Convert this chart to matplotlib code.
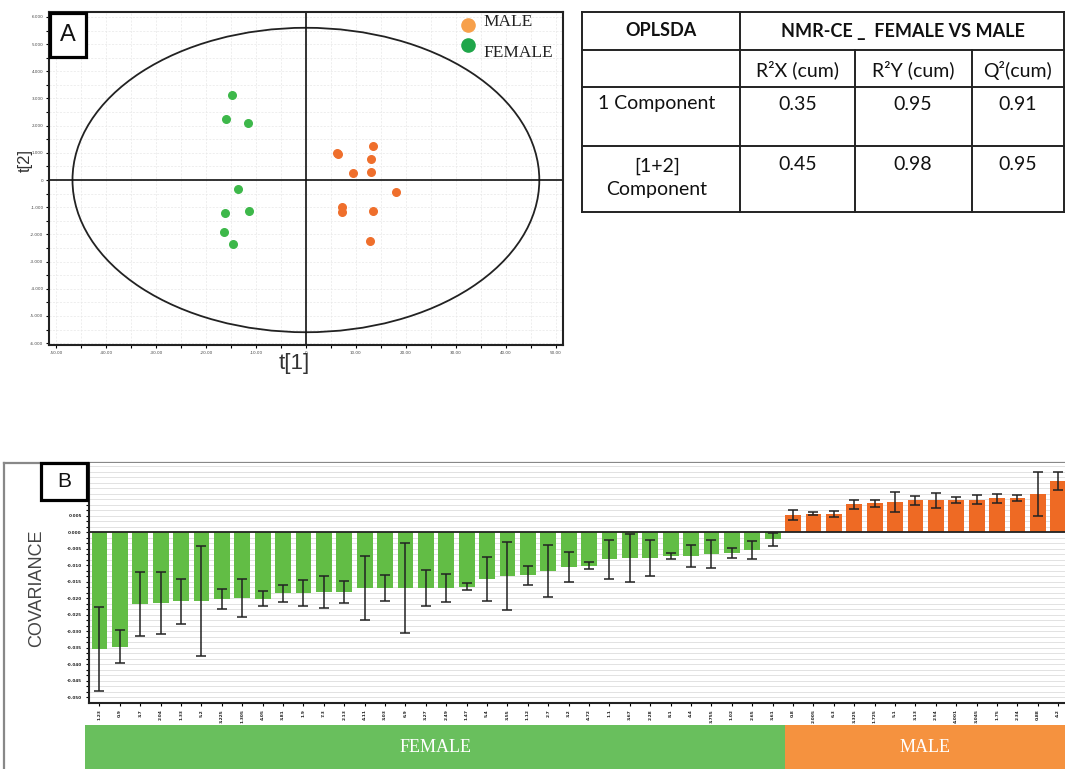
import numpy as np
import matplotlib
matplotlib.use("Agg")
import matplotlib.pyplot as plt
from matplotlib.patches import Ellipse, Rectangle

'''Figure size in pixels (dpi 100)'''
W, H = 1065, 769

'''Panel A: OPLS-DA scores t[1] / t[2]'''
female_t1 = [-14.7, -15.9, -11.5, -13.6, -11.4, -16.1, -16.3, -14.6]
female_t2 = [3.13, 2.23, 2.09, -0.33, -1.13, -1.20, -1.91, -2.34]
male_t1 = [13.4, 6.2, 6.4, 13.1, 9.4, 13.0, 18.1, 7.2, 7.3, 13.4, 12.8]
male_t2 = [1.25, 1.01, 0.97, 0.79, 0.27, 0.29, -0.45, -1.01, -1.18, -1.14, -2.23]
hotelling_t1, hotelling_t2 = 46.7, 5.6

'''Table of model statistics'''
table_title = ["OPLSDA", "NMR-CE _  FEMALE VS MALE"]
table_cols = ["R²X (cum)", "R²Y (cum)", "Q²(cum)"]
table_rows = ["1 Component", "[1+2]\nComponent"]
r2x = ["0.35", "0.45"]
r2y = ["0.95", "0.98"]
q2 = ["0.91", "0.95"]

'''Panel B: covariance of each variable, with error'''
female_cov = [-7.09, -6.93, -4.35, -4.27, -4.18, -4.18, -4.06, -4.00, -4.02, -3.70,
              -3.70, -3.62, -3.62, -3.38, -3.38, -3.38, -3.38, -3.38, -3.30, -2.83,
              -2.65, -2.61, -2.35, -2.12, -2.02, -1.64, -1.56, -1.56, -1.42, -1.44,
              -1.31, -1.27, -1.07, -0.42]
female_err = [2.53, 1.02, 1.95, 1.87, 1.37, 3.33, 0.61, 1.16, 0.45, 0.52,
              0.79, 0.96, 0.65, 1.95, 0.80, 2.70, 1.09, 0.85, 0.21, 1.35,
              2.07, 0.56, 1.58, 0.90, 0.20, 1.17, 1.44, 1.10, 0.19, 0.64,
              0.84, 0.30, 0.52, 0.39]
male_cov = [1.05, 1.13, 1.11, 1.70, 1.76, 1.84, 1.94, 1.94, 1.94, 1.98, 2.06, 2.06, 2.32, 3.11]
male_err = [0.28, 0.10, 0.20, 0.28, 0.22, 0.63, 0.26, 0.47, 0.18, 0.27, 0.26, 0.17, 1.32, 0.55]
var_labels = ["1.23", "0.9", "3.7", "2.04", "1.33", "5.2", "3.225", "1.305", "4.05", "3.81",
              "1.9", "7.3", "2.13", "4.11", "3.03", "6.9", "3.27", "2.49", "1.47", "5.4",
              "3.55", "1.12", "2.7", "3.2", "4.72", "1.1", "3.67", "2.28", "8.1", "4.4",
              "3.755", "1.02", "2.65", "3.61",
              "0.8", "2.005", "6.3", "3.325", "1.725", "5.1", "3.13", "2.54", "4.001",
              "3.045", "1.75", "2.34", "0.88", "4.2"]

GREEN_PT, ORANGE_PT = "#3db84a", "#ef6f2c"
GREEN_BAR, ORANGE_BAR = "#62bd45", "#ee6a24"
GREEN_BAN, ORANGE_BAN = "#69bf5d", "#f5923f"


def px_box(x0, y0, x1, y1):
    '''pixel box (top-left origin) -> figure fraction rect'''
    return [x0 / W, 1 - y1 / H, (x1 - x0) / W, (y1 - y0) / H]


def draw_scores(fig):
    ax = fig.add_axes(px_box(49, 12.3, 562.8, 345))
    ax.set_xlim(-51.4, 51.4)
    ax.set_ylim(-6.07, 6.17)
    ax.set_xticks(np.arange(-50, 51, 10))
    ax.set_xticks(np.arange(-50, 51, 5), minor=True)
    ax.set_yticks(np.arange(-6, 7, 1))
    ax.set_yticks(np.arange(-6, 6.1, 0.5), minor=True)
    ax.set_xticklabels(["0" if v == 0 else f"{v:.2f}" for v in range(-50, 51, 10)],
                       fontsize=3, color="#444")
    ax.set_yticklabels(["0" if v == 0 else f"{v:.3f}" for v in range(-6, 7)],
                       fontsize=3, color="#444")
    ax.tick_params(which="both", length=2, width=0.8, pad=2)
    ax.grid(which="both", color="#e8e8e8", lw=0.5, ls=(0, (3, 2)))
    ax.set_axisbelow(True)
    for s in ax.spines.values():
        s.set_linewidth(1.5)
        s.set_color("#222")
    ax.axhline(0, color="#111", lw=1.2)
    ax.axvline(0, color="#111", lw=1.2)
    ax.add_patch(Ellipse((0, 0), 2 * hotelling_t1, 2 * hotelling_t2, fill=False,
                         ec="#222", lw=1.3))
    ax.scatter(female_t1, female_t2, s=30, color=GREEN_PT, zorder=3)
    ax.scatter(male_t1, male_t2, s=30, color=ORANGE_PT, zorder=3)

    # hand-made legend as in the original
    ax.plot([0.815], [0.962], "o", ms=9.5, color="#f7a04b", transform=ax.transAxes, clip_on=False)
    ax.plot([0.815], [0.902], "o", ms=9.5, color="#1fa64a", transform=ax.transAxes, clip_on=False)
    ax.text(0.845, 0.972, "MALE", transform=ax.transAxes, fontsize=12.5,
            family="Liberation Serif", va="center", color="#222")
    ax.text(0.845, 0.878, "FEMALE", transform=ax.transAxes, fontsize=12.5,
            family="Liberation Serif", va="center", color="#222")

    fig.text(294 / W, 1 - 363 / H, "t[1]", fontsize=16, ha="center", va="center",
             family="Liberation Sans", color="#333")
    fig.text(25 / W, 1 - 160 / H, "t[2]", fontsize=12, ha="center", va="center",
             rotation=90, family="Liberation Sans", color="#333")


def draw_table(ov):
    lw = 1.4
    hy = [12, 50, 87, 146, 212]
    for y in hy:
        ov.plot([582, 1068], [y, y], color="#222", lw=lw)
    ov.plot([582, 582], [12, 212], color="#222", lw=lw)
    ov.plot([740, 740], [12, 212], color="#222", lw=lw)
    for x in (855, 972):
        ov.plot([x, x], [50, 212], color="#222", lw=lw)
    ov.plot([1064, 1064], [12, 212], color="#222", lw=lw)

    col_x = [798, 913, 1018]
    fnt = dict(family="Lato", fontsize=14, ha="center", va="center", color="#111")
    bold = dict(fnt, fontsize=13, fontweight="bold")
    ov.text(661, 31, table_title[0], **bold)
    ov.text(903, 31, table_title[1], **bold)
    for x, c in zip(col_x, table_cols):
        ov.text(x, 70, c, **fnt)
    ov.text(657, 104, table_rows[0], **fnt)
    ov.text(657, 178, table_rows[1], linespacing=1.4, **fnt)
    for row_y, i in ((104, 0), (165, 1)):
        for x, vals in zip(col_x, (r2x, r2y, q2)):
            ov.text(x, row_y, vals[i], **fnt)


def draw_covariance(fig):
    n_f, n_m = len(female_cov), len(male_cov)
    xf = np.arange(n_f)
    xm = np.arange(n_f, n_f + n_m)
    ax = fig.add_axes(px_box(89.3, 463, W, 703))
    ax.set_xlim(-0.5, 47.33)
    ax.set_ylim(-10.35, 4.2)
    ax.bar(xf, female_cov, width=0.77, color=GREEN_BAR, zorder=2)
    ax.bar(xm, male_cov, width=0.77, color=ORANGE_BAR, zorder=2)
    ax.errorbar(xf, female_cov, yerr=female_err, fmt="none", ecolor="#222",
                elinewidth=1.1, capsize=3.8, capthick=1.1, zorder=3)
    ax.errorbar(xm, male_cov, yerr=male_err, fmt="none", ecolor="#222",
                elinewidth=1.1, capsize=3.8, capthick=1.1, zorder=3)
    ax.axhline(0, color="#222", lw=1.3, zorder=4)

    ax.set_yticks(np.arange(-10, 2, 1))
    ax.set_yticks(np.arange(-10, 4.2, 1 / 3), minor=True)
    ax.set_yticklabels([f"{v * 0.005:.3f}" for v in range(-10, 2)], fontsize=3,
                       color="#222", fontweight="bold")
    ax.grid(axis="y", which="both", color="#e2e2e2", lw=0.7)
    ax.set_axisbelow(True)
    ax.set_xticks(np.arange(n_f + n_m))
    ax.set_xticklabels(var_labels[:n_f + n_m], rotation=90, fontsize=3.2,
                       fontweight="bold", color="#222")
    ax.tick_params(axis="x", length=2.5, width=0.8, pad=2)
    ax.tick_params(axis="y", which="both", length=2.5, width=0.8, pad=3)
    ax.spines["top"].set_visible(False)
    ax.spines["right"].set_visible(False)
    for s in ("left", "bottom"):
        ax.spines[s].set_linewidth(1.5)
        ax.spines[s].set_color("#222")

    fig.text(37 / W, 1 - 588 / H, "COVARIANCE", rotation=90, fontsize=13,
             ha="center", va="center", family="Liberation Sans", color="#444")

    # group banner underneath
    ban = fig.add_axes(px_box(85, 725, W, H))
    ban.set_xlim(-0.71, 47.33)
    ban.set_ylim(0, 1)
    ban.axis("off")
    split = n_f - 0.385
    ban.add_patch(Rectangle((-0.71, 0), split + 0.71, 1, color=GREEN_BAN, lw=0))
    ban.add_patch(Rectangle((split, 0), 47.33 - split, 1, color=ORANGE_BAN, lw=0))
    ban.text((split - 0.71) / 2, 0.5, "FEMALE", color="white", fontsize=13,
             family="Liberation Serif", ha="center", va="center")
    ban.text((split + 47.33) / 2, 0.5, "MALE", color="white", fontsize=13,
             family="Liberation Serif", ha="center", va="center")


def panel_letter(top, x0, y0, x1, y1, letter, size):
    top.add_patch(Rectangle((x0, y0), x1 - x0, y1 - y0, fc="white", ec="black", lw=2.3))
    top.text((x0 + x1) / 2, (y0 + y1) / 2, letter, fontsize=size, ha="center",
             va="center", family="Liberation Sans", color="#111")


def pixel_axes(fig, z):
    a = fig.add_axes([0, 0, 1, 1], zorder=z)
    a.set_xlim(0, W)
    a.set_ylim(H, 0)
    a.axis("off")
    return a


def main():
    fig = plt.figure(figsize=(W / 100, H / 100), dpi=100)
    ov = pixel_axes(fig, -1)
    # frame around panel B
    ov.plot([4, W], [463, 463], color="#888", lw=1.6)
    ov.plot([4, 4], [463, H], color="#888", lw=1.6)

    draw_scores(fig)
    draw_table(ov)
    draw_covariance(fig)

    top = pixel_axes(fig, 10)
    panel_letter(top, 50, 13, 86, 57, "A", 17)
    panel_letter(top, 41, 463, 87, 500, "B", 15)
    fig.savefig("out.png", dpi=100)


if __name__ == '__main__':
    main()
